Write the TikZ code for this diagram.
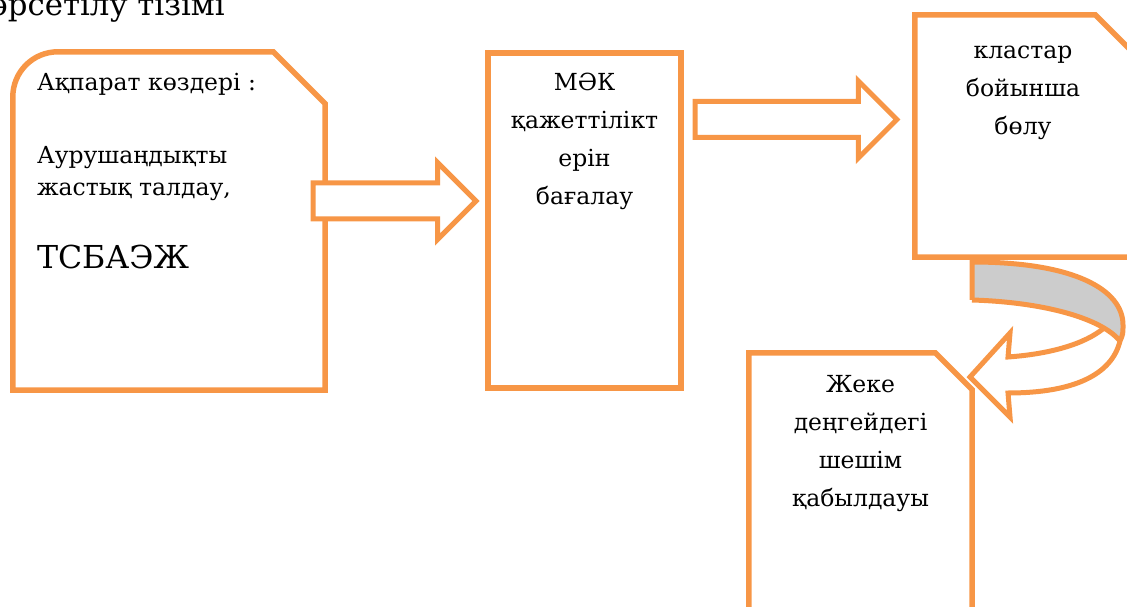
\documentclass[tikz,border=0pt]{standalone}
\usepackage{fontspec}
\setmainfont{DejaVu Serif}[Scale=0.81]
\usetikzlibrary{positioning,calc}

\definecolor{boxorange}{RGB}{247,150,70}
\definecolor{bandgray}{RGB}{204,204,204}

% block arrow from tail coordinate to tip coordinate
\newcommand{\blockarrow}[2]{%
  \draw[arrowline] let \p1=(#1), \p2=(#2) in
    (\x1,\y1+18pt) -- (\x2-38.5pt,\y1+18pt) -- (\x2-38.5pt,\y1+38.5pt) -- (\x2,\y1)
    -- (\x2-38.5pt,\y1-38.5pt) -- (\x2-38.5pt,\y1-18pt) -- (\x1,\y1-18pt) -- cycle;}

% box with cut top right corner
\newcommand{\snipbox}[2]{%
  \draw[boxline] (#1.south west) -- (#1.north west) -- ([xshift=-#2]#1.north east)
    -- ([yshift=-#2]#1.north east) -- (#1.south east) -- cycle;}

\begin{document}
\begin{tikzpicture}[
  x=1pt, y=1pt,
  boxarea/.style={rectangle, inner sep=0, draw=none},
  boxline/.style={draw=boxorange, line width=5.5pt, line join=miter},
  arrowline/.style={draw=boxorange, fill=white, line width=5pt, line join=miter},
  boxtext/.style={font=\fontsize{29}{38}\selectfont, align=center, inner sep=0},
  srctext/.style={font=\fontsize{29}{32}\selectfont, inner sep=0, anchor=base west}
]
\clip (0,0) rectangle (1127,606);

\node[anchor=base west, inner sep=0, font=\fontsize{38}{40}\selectfont] (title) at (-30,590) {көрсетілу тізімі};

% boxes
\node[boxarea, minimum width=312, minimum height=338] (sources) at (169,385) {};
\node[boxarea, minimum width=193, minimum height=335] (mak) at (584.5,385.5) {};
\node[boxarea, minimum width=216, minimum height=242] (clusters) at (1023,470) {};
\node[boxarea, minimum width=223, minimum height=297] (decision) at (860.5,104.5) {};

\draw[boxline] (sources.south west) -- ([yshift=-45pt]sources.north west)
  arc[start angle=180, end angle=90, radius=45pt] -- ([xshift=-52pt]sources.north east)
  -- ([yshift=-52pt]sources.north east) -- (sources.south east) -- cycle;
\draw[boxline] (mak.south west) rectangle (mak.north east);
\snipbox{clusters}{36pt}
\snipbox{decision}{37pt}

% texts
\node[srctext] (src1) at ([xshift=24pt, yshift=-39pt]sources.north west) {Ақпарат көздері :};
\node[srctext] (src2) at ([yshift=-73pt]src1.base west) {Аурушаңдықты};
\node[srctext] (src3) at ([yshift=-32pt]src2.base west) {жастық талдау,};
\node[srctext, font=\fontsize{39}{40}\selectfont] (src4) at ([yshift=-73pt]src3.base west) {ТСБАЭЖ};

\node[boxtext, below=20pt of mak.north] (maktext) {МӘК\\қажеттілікт\\ерін\\бағалау};
\node[boxtext, below=31pt of clusters.north] (clusterstext) {кластар\\бойынша\\бөлу};
\node[boxtext, below=22pt of decision.north] (decisiontext) {Жеке\\деңгейдегі\\шешім\\қабылдауы};

% arrows
\coordinate (a1tail) at ([xshift=-12pt, yshift=20pt]sources.east);
\coordinate (a1tip) at (476,405);
\coordinate (a2tail) at ([xshift=14pt, yshift=101pt]mak.east);
\coordinate (a2tip) at ([xshift=-18pt, yshift=16.5pt]clusters.west);
\blockarrow{a1tail}{a1tip}
\blockarrow{a2tail}{a2tip}

% curved arrow down to the decision box
\fill[bandgray] (972,344) .. controls (1075,344) and (1123,316) .. (1123,281)
  .. controls (1123,272) .. (1120,265)
  .. controls (1100,289) and (1040,304) .. (972,306) -- cycle;
\draw[arrowline, fill=none] (972,306) -- (972,344) .. controls (1075,344) and (1123,316) .. (1123,281)
  .. controls (1123,272) .. (1120,265)
  .. controls (1112,232) and (1075,213) .. (1008,213)
  -- (1010,189) -- (970,229) -- (1010,273) -- (1008,249)
  .. controls (1050,252) and (1085,262) .. (1104,278);
\draw[arrowline, fill=none] (972,306) .. controls (1040,304) and (1100,289) .. (1120,265);

\end{tikzpicture}
\end{document}
